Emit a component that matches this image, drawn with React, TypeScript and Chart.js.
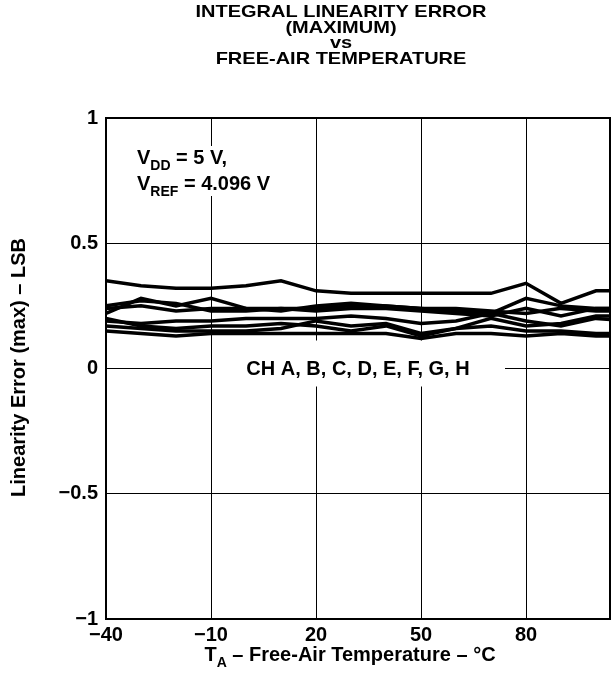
import React, { useEffect, useRef } from "react";
import { Chart, registerables } from "chart.js";

Chart.register(...registerables);

// Free-air temperature sample points (°C)
const temperatureC = [-40, -30, -20, -10, 0, 10, 20, 30, 40, 50, 60, 70, 80, 90, 100, 110];

// Maximum integral linearity error per channel (LSB)
const chA = [0.35, 0.33, 0.32, 0.32, 0.33, 0.35, 0.31, 0.30, 0.30, 0.30, 0.30, 0.30, 0.34, 0.26, 0.31, 0.31];
const chB = [0.25, 0.27, 0.26, 0.23, 0.23, 0.24, 0.24, 0.25, 0.25, 0.24, 0.24, 0.23, 0.22, 0.24, 0.23, 0.23];
const chC = [0.22, 0.28, 0.25, 0.28, 0.24, 0.23, 0.25, 0.26, 0.25, 0.24, 0.23, 0.22, 0.28, 0.25, 0.24, 0.24];
const chD = [0.24, 0.25, 0.23, 0.24, 0.24, 0.24, 0.23, 0.24, 0.24, 0.23, 0.22, 0.21, 0.24, 0.21, 0.24, 0.24];
const chE = [0.19, 0.18, 0.19, 0.19, 0.20, 0.20, 0.20, 0.21, 0.20, 0.18, 0.19, 0.22, 0.19, 0.17, 0.20, 0.19];
const chF = [0.20, 0.17, 0.16, 0.17, 0.17, 0.18, 0.17, 0.15, 0.17, 0.13, 0.16, 0.20, 0.17, 0.18, 0.21, 0.21];
const chG = [0.17, 0.16, 0.15, 0.15, 0.15, 0.16, 0.19, 0.17, 0.18, 0.14, 0.16, 0.17, 0.15, 0.15, 0.14, 0.14];
const chH = [0.15, 0.14, 0.13, 0.14, 0.14, 0.14, 0.14, 0.14, 0.14, 0.12, 0.14, 0.14, 0.13, 0.14, 0.13, 0.13];

const channels = [chA, chB, chC, chD, chE, chF, chG, chH];

// Axis ranges and tick positions
const xTicks = [-40, -10, 20, 50, 80];
const xMin = -40;
const xMax = 104;
const yMin = -1;
const yMax = 1;
const yStep = 0.5;

const titleLines = ["INTEGRAL LINEARITY ERROR", "(MAXIMUM)", "vs", "FREE-AIR TEMPERATURE"];
const channelLabel = "CH A, B, C, D, E, F, G, H";

const FONT = '"Liberation Sans", Arial, Helvetica, sans-serif';
const SIZE = 20;

type Part = { t: string; sub?: boolean };

function richWidth(ctx: CanvasRenderingContext2D, parts: Part[], size: number) {
  let w = 0;
  for (const p of parts) {
    ctx.font = `bold ${p.sub ? Math.round(size * 0.72) : size}px ${FONT}`;
    w += ctx.measureText(p.t).width;
  }
  return w;
}

// Draws a line of text with subscripts, starting at x on the given baseline
function drawRich(ctx: CanvasRenderingContext2D, parts: Part[], x: number, y: number, size: number) {
  let cx = x;
  ctx.textAlign = "left";
  ctx.textBaseline = "alphabetic";
  for (const p of parts) {
    ctx.font = `bold ${p.sub ? Math.round(size * 0.72) : size}px ${FONT}`;
    ctx.fillText(p.t, cx, p.sub ? y + size * 0.28 : y);
    cx += ctx.measureText(p.t).width;
  }
}

const textPlugin = {
  id: "chartText",
  beforeDatasetsDraw(chart: any) {
    const { ctx, chartArea } = chart;
    const L = chartArea.left;
    const T = chartArea.top;
    ctx.save();
    // supply-voltage note with a clear background
    ctx.fillStyle = "#fff";
    ctx.fillRect(L + 22, T + 28, 170, 50);
    ctx.fillStyle = "#000";
    drawRich(ctx, [{ t: "V" }, { t: "DD", sub: true }, { t: " = 5 V," }], L + 31, T + 46, SIZE);
    drawRich(ctx, [{ t: "V" }, { t: "REF", sub: true }, { t: " = 4.096 V" }], L + 31, T + 72, SIZE);

    // channel label sitting on the zero line
    const y0 = chart.scales.y.getPixelForValue(0);
    ctx.fillStyle = "#fff";
    ctx.fillRect(L + 106, y0 - 28, 293, 46);
    ctx.fillStyle = "#000";
    ctx.font = `bold ${SIZE}px ${FONT}`;
    ctx.textAlign = "center";
    ctx.textBaseline = "middle";
    ctx.fillText(channelLabel, L + 252, y0 + 1);
    ctx.restore();
  },
  afterDatasetsDraw(chart: any) {
    const { ctx, chartArea } = chart;
    ctx.save();
    ctx.strokeStyle = "#000";
    ctx.lineWidth = 2;
    ctx.strokeRect(chartArea.left, chartArea.top, chartArea.right - chartArea.left, chartArea.bottom - chartArea.top);
    ctx.restore();
  },
  afterDraw(chart: any) {
    const { ctx, chartArea } = chart;
    ctx.save();
    ctx.fillStyle = "#000";
    ctx.textAlign = "center";
    ctx.textBaseline = "middle";
    ctx.font = `bold 20px ${FONT}`;
    // compact four-line heading
    titleLines.forEach((line, i) => {
      ctx.save();
      ctx.translate(341, 13 + i * 15.5);
      ctx.scale(1, 0.8);
      ctx.fillText(line, 0, 0);
      ctx.restore();
    });

    // x-axis title
    const xParts: Part[] = [{ t: "T" }, { t: "A", sub: true }, { t: " \u2013 Free-Air Temperature \u2013 \u00B0C" }];
    const xw = richWidth(ctx, xParts, SIZE);
    drawRich(ctx, xParts, 350 - xw / 2, 661, SIZE);

    // y-axis title
    ctx.translate(19, (chartArea.top + chartArea.bottom) / 2 - 1);
    ctx.rotate(-Math.PI / 2);
    ctx.font = `bold ${SIZE}px ${FONT}`;
    ctx.textAlign = "center";
    ctx.textBaseline = "middle";
    ctx.fillText("Linearity Error (max) \u2013 LSB", 0, 0);
    ctx.restore();
  },
};

const fmt = (v: number) => String(v).replace("-", "\u2212");

export default function App() {
  const ref = useRef<HTMLCanvasElement | null>(null);

  useEffect(() => {
    document.body.style.margin = "0";
    const canvas = ref.current;
    if (!canvas) return;
    const chart = new Chart(canvas, {
      type: "line",
      data: {
        datasets: channels.map((vals, i) => ({
          label: `CH ${String.fromCharCode(65 + i)}`,
          data: temperatureC.map((t, j) => ({ x: t, y: vals[j] })),
          borderColor: "#000",
          borderWidth: 3.5,
          pointRadius: 0,
          tension: 0,
          fill: false,
        })),
      },
      options: {
        responsive: false,
        animation: false,
        events: [],
        layout: { padding: { top: 118, right: 2, left: 0, bottom: 0 } },
        plugins: { legend: { display: false }, title: { display: false }, tooltip: { enabled: false } },
        scales: {
          x: {
            type: "linear",
            min: xMin,
            max: xMax,
            afterBuildTicks: (scale: any) => {
              scale.ticks = xTicks.map((v) => ({ value: v }));
            },
            afterFit: (scale: any) => {
              scale.height = 64;
            },
            grid: { color: "#000", lineWidth: 1, drawTicks: false },
            border: { color: "#000", width: 2 },
            ticks: {
              color: "#000",
              padding: 4,
              maxRotation: 0,
              autoSkip: false,
              font: { family: FONT, size: SIZE, weight: "bold" },
              callback: (v: any) => fmt(Number(v)),
            },
          },
          y: {
            type: "linear",
            min: yMin,
            max: yMax,
            afterFit: (scale: any) => {
              scale.width = 106;
            },
            grid: { color: "#000", lineWidth: 1, drawTicks: false },
            border: { color: "#000", width: 2 },
            ticks: {
              stepSize: yStep,
              color: "#000",
              padding: 8,
              font: { family: FONT, size: SIZE, weight: "bold" },
              callback: (v: any) => fmt(Number(v)),
            },
          },
        },
      },
      plugins: [textPlugin],
    });
    return () => chart.destroy();
  }, []);

  return <canvas ref={ref} width={612} height={683} style={{ display: "block" }} />;
}
